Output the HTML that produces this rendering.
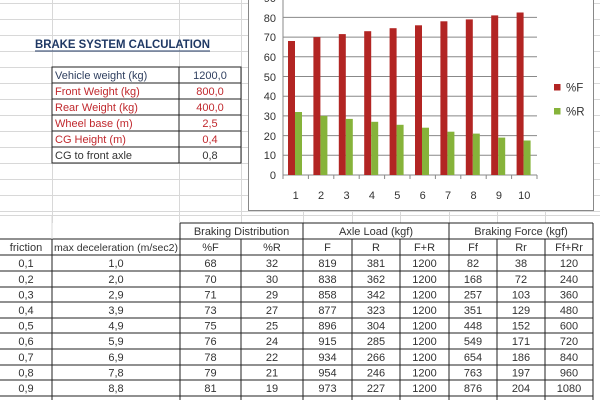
<!DOCTYPE html>
<html><head><meta charset="utf-8"><style>
html,body{margin:0;padding:0;background:#fff;}
svg{display:block;font-family:"Liberation Sans",sans-serif;}
</style></head><body>
<svg width="600" height="400" viewBox="0 0 600 400" xmlns="http://www.w3.org/2000/svg">
<rect width="600" height="400" fill="#fff"/>
<g stroke="#d8d8d8" stroke-width="1">
<line x1="0" y1="3.5" x2="600" y2="3.5"/><line x1="0" y1="19.5" x2="600" y2="19.5"/>
<line x1="0" y1="35.5" x2="600" y2="35.5"/><line x1="0" y1="51.5" x2="600" y2="51.5"/>
<line x1="0" y1="67.5" x2="600" y2="67.5"/><line x1="0" y1="83.5" x2="600" y2="83.5"/>
<line x1="0" y1="99.5" x2="600" y2="99.5"/><line x1="0" y1="115.5" x2="600" y2="115.5"/>
<line x1="0" y1="131.5" x2="600" y2="131.5"/><line x1="0" y1="147.5" x2="600" y2="147.5"/>
<line x1="0" y1="163.5" x2="600" y2="163.5"/><line x1="0" y1="179.5" x2="600" y2="179.5"/>
<line x1="0" y1="195.5" x2="600" y2="195.5"/><line x1="0" y1="211.5" x2="600" y2="211.5"/>
<line x1="52.5" y1="0" x2="52.5" y2="223"/><line x1="179.5" y1="0" x2="179.5" y2="223"/>
<line x1="241.5" y1="0" x2="241.5" y2="223"/><line x1="303.5" y1="210" x2="303.5" y2="223"/>
<line x1="352.5" y1="210" x2="352.5" y2="223"/><line x1="400.5" y1="210" x2="400.5" y2="223"/>
<line x1="449.5" y1="210" x2="449.5" y2="223"/><line x1="497.5" y1="210" x2="497.5" y2="223"/>
<line x1="545.5" y1="210" x2="545.5" y2="223"/>
<line x1="0" y1="215.5" x2="600" y2="215.5"/>
</g>
<text x="35" y="48" font-size="12" font-weight="bold" fill="#1f3864" textLength="175" lengthAdjust="spacingAndGlyphs">BRAKE SYSTEM CALCULATION</text>
<line x1="35" y1="51" x2="210" y2="51" stroke="#1f3864" stroke-width="1"/>
<rect x="52" y="67" width="189" height="96" fill="#fff" stroke="#222" stroke-width="1"/>
<g stroke="#222" stroke-width="1">
<line x1="179" y1="67" x2="179" y2="163"/>
<line x1="52" y1="83" x2="241" y2="83"/><line x1="52" y1="99" x2="241" y2="99"/>
<line x1="52" y1="115" x2="241" y2="115"/><line x1="52" y1="131" x2="241" y2="131"/>
<line x1="52" y1="147" x2="241" y2="147"/>
</g>
<g font-size="11">
<text x="55" y="79" fill="#2f3f5f">Vehicle weight (kg)</text><text x="210" y="79" fill="#2f3f5f" text-anchor="middle">1200,0</text>
<text x="55" y="95" fill="#c0282d">Front Weight (kg)</text><text x="210" y="95" fill="#c0282d" text-anchor="middle">800,0</text>
<text x="55" y="111" fill="#c0282d">Rear Weight (kg)</text><text x="210" y="111" fill="#c0282d" text-anchor="middle">400,0</text>
<text x="55" y="127" fill="#c0282d">Wheel base (m)</text><text x="210" y="127" fill="#c0282d" text-anchor="middle">2,5</text>
<text x="55" y="143" fill="#c0282d">CG Height (m)</text><text x="210" y="143" fill="#c0282d" text-anchor="middle">0,4</text>
<text x="55" y="159" fill="#333">CG to front axle</text><text x="210" y="159" fill="#333" text-anchor="middle">0,8</text>
</g>
<rect x="248.5" y="-5" width="345" height="215.5" fill="#fff" stroke="#888" stroke-width="1"/>
<g stroke="#888" stroke-width="1">
<line x1="283" y1="-2" x2="537" y2="-2"/>
<line x1="283" y1="17.4" x2="537" y2="17.4"/><line x1="283" y1="37.1" x2="537" y2="37.1"/>
<line x1="283" y1="56.8" x2="537" y2="56.8"/><line x1="283" y1="76.5" x2="537" y2="76.5"/>
<line x1="283" y1="96.2" x2="537" y2="96.2"/><line x1="283" y1="115.9" x2="537" y2="115.9"/>
<line x1="283" y1="135.6" x2="537" y2="135.6"/><line x1="283" y1="155.3" x2="537" y2="155.3"/>
<line x1="283" y1="175" x2="537" y2="175"/>
<line x1="283" y1="-3" x2="283" y2="178"/>
</g>
<g font-size="11" fill="#333" text-anchor="end">
<text x="276" y="179">0</text><text x="276" y="159">10</text><text x="276" y="140">20</text>
<text x="276" y="120">30</text><text x="276" y="100">40</text><text x="276" y="81">50</text>
<text x="276" y="61">60</text><text x="276" y="41">70</text><text x="276" y="22">80</text><text x="276" y="2">90</text>
</g>
<g fill="#b22523">
<rect x="288" y="41" width="7" height="134"/><rect x="313.4" y="37.1" width="7" height="137.9"/>
<rect x="338.8" y="34.1" width="7" height="140.9"/><rect x="364.2" y="31.2" width="7" height="143.8"/>
<rect x="389.6" y="28.2" width="7" height="146.8"/><rect x="415" y="25.3" width="7" height="149.7"/>
<rect x="440.4" y="21.3" width="7" height="153.7"/><rect x="465.8" y="19.4" width="7" height="155.6"/>
<rect x="491.2" y="15.4" width="7" height="159.6"/><rect x="516.6" y="12.5" width="7" height="162.5"/>
</g>
<g fill="#86b33a">
<rect x="295" y="112" width="7" height="63"/><rect x="320.4" y="115.9" width="7" height="59.1"/>
<rect x="345.8" y="118.9" width="7" height="56.1"/><rect x="371.2" y="121.8" width="7" height="53.2"/>
<rect x="396.6" y="124.8" width="7" height="50.2"/><rect x="422" y="127.7" width="7" height="47.3"/>
<rect x="447.4" y="131.7" width="7" height="43.3"/><rect x="472.8" y="133.6" width="7" height="41.4"/>
<rect x="498.2" y="137.6" width="7" height="37.4"/><rect x="523.6" y="140.5" width="7" height="34.5"/>
</g>
<g stroke="#888" stroke-width="1">
<line x1="283" y1="175" x2="283" y2="179"/><line x1="308.4" y1="175" x2="308.4" y2="179"/>
<line x1="333.8" y1="175" x2="333.8" y2="179"/><line x1="359.2" y1="175" x2="359.2" y2="179"/>
<line x1="384.6" y1="175" x2="384.6" y2="179"/><line x1="410" y1="175" x2="410" y2="179"/>
<line x1="435.4" y1="175" x2="435.4" y2="179"/><line x1="460.8" y1="175" x2="460.8" y2="179"/>
<line x1="486.2" y1="175" x2="486.2" y2="179"/><line x1="511.6" y1="175" x2="511.6" y2="179"/>
<line x1="537" y1="175" x2="537" y2="179"/>
</g>
<g font-size="11" fill="#333" text-anchor="middle">
<text x="295.7" y="199">1</text><text x="321.1" y="199">2</text><text x="346.5" y="199">3</text>
<text x="371.9" y="199">4</text><text x="397.3" y="199">5</text><text x="422.7" y="199">6</text>
<text x="448.1" y="199">7</text><text x="473.5" y="199">8</text><text x="498.9" y="199">9</text>
<text x="524.3" y="199">10</text>
</g>
<rect x="554" y="84" width="6.5" height="6.5" fill="#b22523"/>
<text x="566" y="91.5" font-size="11.5" fill="#333">%F</text>
<rect x="554" y="108" width="6.5" height="6.5" fill="#86b33a"/>
<text x="566" y="115.5" font-size="11.5" fill="#333">%R</text>
<g stroke="#222" stroke-width="1" fill="none">
<line x1="180" y1="223" x2="593" y2="223"/>
<line x1="0" y1="239" x2="593" y2="239"/>
<line x1="0" y1="255" x2="593" y2="255"/><line x1="0" y1="271" x2="593" y2="271"/>
<line x1="0" y1="287" x2="593" y2="287"/><line x1="0" y1="302" x2="593" y2="302"/>
<line x1="0" y1="318" x2="593" y2="318"/><line x1="0" y1="333" x2="593" y2="333"/>
<line x1="0" y1="349" x2="593" y2="349"/><line x1="0" y1="365" x2="593" y2="365"/>
<line x1="0" y1="380" x2="593" y2="380"/><line x1="0" y1="396" x2="593" y2="396"/>
<line x1="52" y1="239" x2="52" y2="400"/><line x1="180" y1="223" x2="180" y2="400"/>
<line x1="241" y1="239" x2="241" y2="400"/><line x1="303" y1="223" x2="303" y2="400"/>
<line x1="352" y1="239" x2="352" y2="400"/><line x1="400" y1="239" x2="400" y2="400"/>
<line x1="449" y1="223" x2="449" y2="400"/><line x1="497" y1="239" x2="497" y2="400"/>
<line x1="545" y1="239" x2="545" y2="400"/><line x1="593" y1="223" x2="593" y2="400"/>
</g>
<line x1="52" y1="215" x2="52" y2="239" stroke="#d8d8d8"/>
<g font-size="11" fill="#333" text-anchor="middle">
<text x="241.5" y="235">Braking Distribution</text><text x="376" y="235">Axle Load (kgf)</text><text x="521" y="235">Braking Force (kgf)</text>
<text x="26" y="251">friction</text><text x="116" y="251" font-size="10.5" textLength="124" lengthAdjust="spacingAndGlyphs">max deceleration (m/sec2)</text>
<text x="210.5" y="251">%F</text><text x="272" y="251">%R</text><text x="327.5" y="251">F</text><text x="376" y="251">R</text><text x="424.5" y="251">F+R</text>
<text x="473" y="251">Ff</text><text x="521" y="251">Rr</text><text x="569" y="251">Ff+Rr</text>
</g>
<g font-size="11" fill="#333" text-anchor="middle">
<g transform="translate(0,267)"><text x="26">0,1</text><text x="116">1,0</text><text x="210.5">68</text><text x="272">32</text><text x="327.5">819</text><text x="376">381</text><text x="424.5">1200</text><text x="473">82</text><text x="521">38</text><text x="569">120</text></g>
<g transform="translate(0,283)"><text x="26">0,2</text><text x="116">2,0</text><text x="210.5">70</text><text x="272">30</text><text x="327.5">838</text><text x="376">362</text><text x="424.5">1200</text><text x="473">168</text><text x="521">72</text><text x="569">240</text></g>
<g transform="translate(0,298.5)"><text x="26">0,3</text><text x="116">2,9</text><text x="210.5">71</text><text x="272">29</text><text x="327.5">858</text><text x="376">342</text><text x="424.5">1200</text><text x="473">257</text><text x="521">103</text><text x="569">360</text></g>
<g transform="translate(0,314)"><text x="26">0,4</text><text x="116">3,9</text><text x="210.5">73</text><text x="272">27</text><text x="327.5">877</text><text x="376">323</text><text x="424.5">1200</text><text x="473">351</text><text x="521">129</text><text x="569">480</text></g>
<g transform="translate(0,329.5)"><text x="26">0,5</text><text x="116">4,9</text><text x="210.5">75</text><text x="272">25</text><text x="327.5">896</text><text x="376">304</text><text x="424.5">1200</text><text x="473">448</text><text x="521">152</text><text x="569">600</text></g>
<g transform="translate(0,345)"><text x="26">0,6</text><text x="116">5,9</text><text x="210.5">76</text><text x="272">24</text><text x="327.5">915</text><text x="376">285</text><text x="424.5">1200</text><text x="473">549</text><text x="521">171</text><text x="569">720</text></g>
<g transform="translate(0,361)"><text x="26">0,7</text><text x="116">6,9</text><text x="210.5">78</text><text x="272">22</text><text x="327.5">934</text><text x="376">266</text><text x="424.5">1200</text><text x="473">654</text><text x="521">186</text><text x="569">840</text></g>
<g transform="translate(0,376.5)"><text x="26">0,8</text><text x="116">7,8</text><text x="210.5">79</text><text x="272">21</text><text x="327.5">954</text><text x="376">246</text><text x="424.5">1200</text><text x="473">763</text><text x="521">197</text><text x="569">960</text></g>
<g transform="translate(0,392)"><text x="26">0,9</text><text x="116">8,8</text><text x="210.5">81</text><text x="272">19</text><text x="327.5">973</text><text x="376">227</text><text x="424.5">1200</text><text x="473">876</text><text x="521">204</text><text x="569">1080</text></g>
</g>
</svg>
</body></html>
